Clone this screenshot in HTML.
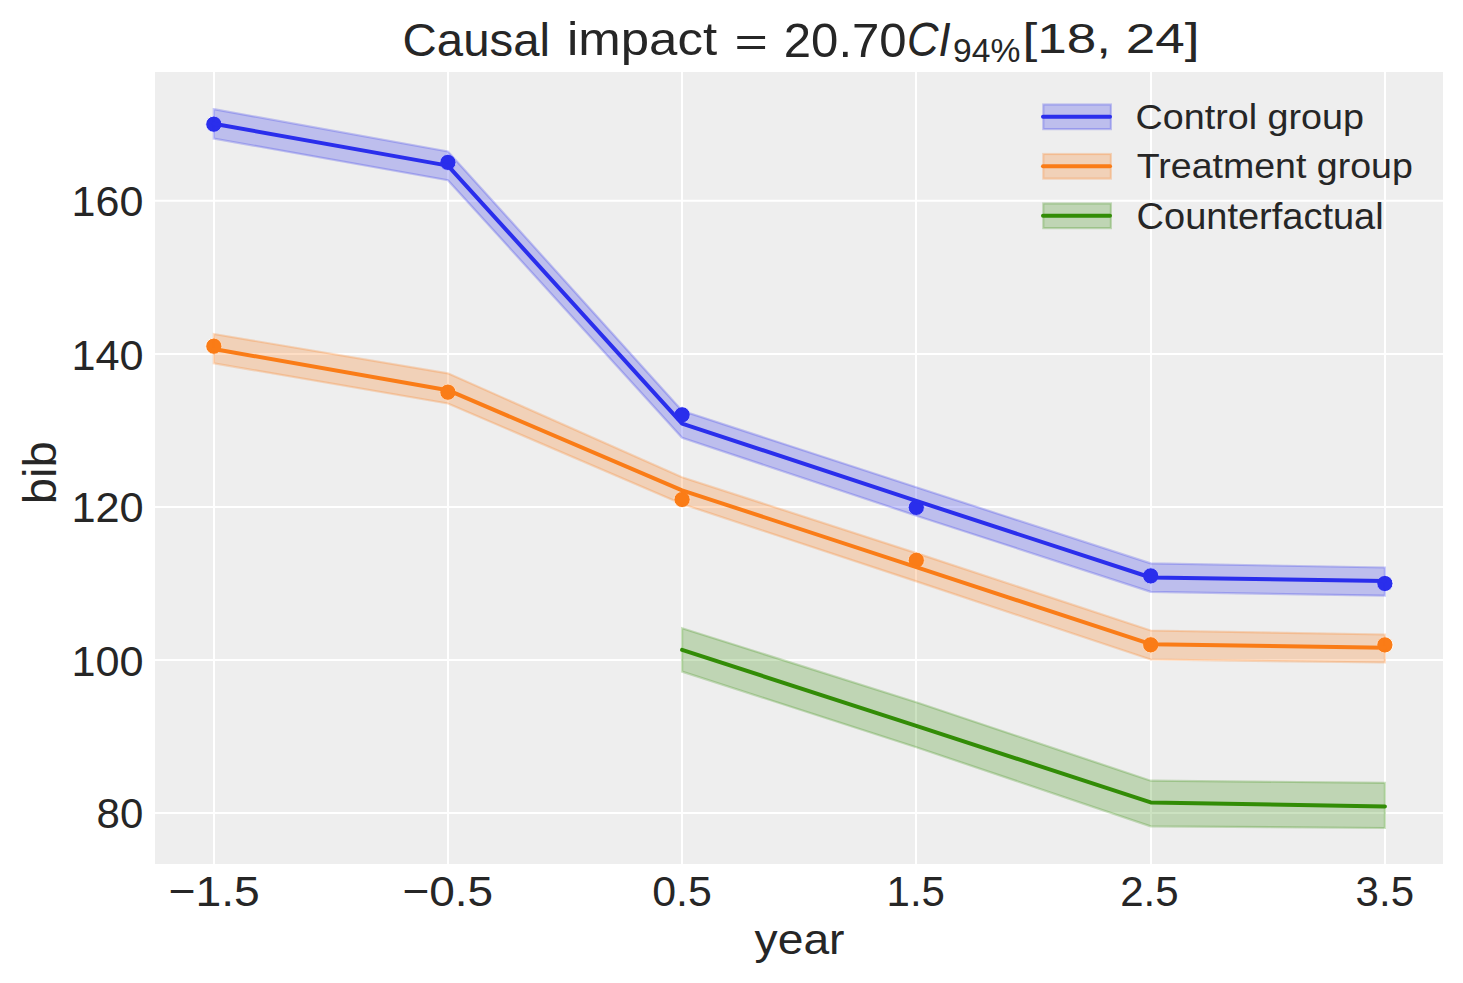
<!DOCTYPE html>
<html><head><meta charset="utf-8"><style>
html,body{margin:0;padding:0;background:#fff;width:1463px;height:983px;overflow:hidden}
svg{display:block}
text{font-family:"Liberation Sans",sans-serif;fill:#262626}
</style></head><body>
<svg width="1463" height="983" viewBox="0 0 1463 983">
<rect width="1463" height="983" fill="#fff"/>
<rect x="155" y="72" width="1288" height="792" fill="#eeeeee"/>
<line x1="214.0" y1="72" x2="214.0" y2="864" stroke="#fff" stroke-width="2"/>
<line x1="448.0" y1="72" x2="448.0" y2="864" stroke="#fff" stroke-width="2"/>
<line x1="682.0" y1="72" x2="682.0" y2="864" stroke="#fff" stroke-width="2"/>
<line x1="916.0" y1="72" x2="916.0" y2="864" stroke="#fff" stroke-width="2"/>
<line x1="1151.0" y1="72" x2="1151.0" y2="864" stroke="#fff" stroke-width="2"/>
<line x1="1385.0" y1="72" x2="1385.0" y2="864" stroke="#fff" stroke-width="2"/>
<line x1="155" y1="200.7" x2="1443" y2="200.7" stroke="#fff" stroke-width="2"/>
<line x1="155" y1="353.9" x2="1443" y2="353.9" stroke="#fff" stroke-width="2"/>
<line x1="155" y1="507.0" x2="1443" y2="507.0" stroke="#fff" stroke-width="2"/>
<line x1="155" y1="660.0" x2="1443" y2="660.0" stroke="#fff" stroke-width="2"/>
<line x1="155" y1="812.9" x2="1443" y2="812.9" stroke="#fff" stroke-width="2"/>
<circle cx="213.8" cy="124.2" r="8.1" fill="#2a2eec" stroke="#fff" stroke-width="0.9"/>
<circle cx="447.9" cy="162.4" r="8.1" fill="#2a2eec" stroke="#fff" stroke-width="0.9"/>
<circle cx="682.1" cy="414.8" r="8.1" fill="#2a2eec" stroke="#fff" stroke-width="0.9"/>
<circle cx="916.3" cy="507.4" r="8.1" fill="#2a2eec" stroke="#fff" stroke-width="0.9"/>
<circle cx="1150.7" cy="575.9" r="8.1" fill="#2a2eec" stroke="#fff" stroke-width="0.9"/>
<circle cx="1384.9" cy="583.5" r="8.1" fill="#2a2eec" stroke="#fff" stroke-width="0.9"/>
<circle cx="213.8" cy="346.2" r="8.1" fill="#fa7c17" stroke="#fff" stroke-width="0.9"/>
<circle cx="447.9" cy="392.2" r="8.1" fill="#fa7c17" stroke="#fff" stroke-width="0.9"/>
<circle cx="682.1" cy="499.5" r="8.1" fill="#fa7c17" stroke="#fff" stroke-width="0.9"/>
<circle cx="916.3" cy="560.3" r="8.1" fill="#fa7c17" stroke="#fff" stroke-width="0.9"/>
<circle cx="1150.7" cy="644.8" r="8.1" fill="#fa7c17" stroke="#fff" stroke-width="0.9"/>
<circle cx="1384.9" cy="644.9" r="8.1" fill="#fa7c17" stroke="#fff" stroke-width="0.9"/>
<polygon points="213.8,109.2 447.9,151.4 682.1,410.7 916.3,487.3 1150.7,563.4 1384.9,567.5 1384.9,595.7 1150.7,591.8 916.3,515.7 682.1,437.7 447.9,180.2 213.8,138.5" fill="#2a2eec" fill-opacity="0.25" stroke="#2a2eec" stroke-opacity="0.25" stroke-width="2.2" stroke-linejoin="miter"/>
<polyline points="213.8,123.8 447.9,165.6 682.1,423.6 916.3,500.9 1150.7,577.5 1384.9,581.0" fill="none" stroke="#2a2eec" stroke-width="4" stroke-linejoin="round" stroke-linecap="round"/>
<polygon points="213.8,334.0 447.9,373.3 682.1,477.2 916.3,553.1 1150.7,630.5 1384.9,634.5 1384.9,662.5 1150.7,659.5 916.3,581.4 682.1,504.0 447.9,403.5 213.8,363.3" fill="#fa7c17" fill-opacity="0.25" stroke="#fa7c17" stroke-opacity="0.25" stroke-width="2.2" stroke-linejoin="miter"/>
<polyline points="213.8,349.0 447.9,390.2 682.1,490.3 916.3,567.1 1150.7,644.2 1384.9,647.7" fill="none" stroke="#fa7c17" stroke-width="4" stroke-linejoin="round" stroke-linecap="round"/>
<polygon points="682.1,628.2 916.3,702.3 1150.7,780.7 1384.9,782.8 1384.9,828.0 1150.7,826.3 916.3,747.2 682.1,671.6" fill="#328c06" fill-opacity="0.25" stroke="#328c06" stroke-opacity="0.25" stroke-width="2.2" stroke-linejoin="miter"/>
<polyline points="682.1,649.9 916.3,725.8 1150.7,802.4 1384.9,806.4" fill="none" stroke="#328c06" stroke-width="4" stroke-linejoin="round" stroke-linecap="round"/>
<rect x="1043.3" y="104.5" width="67.6" height="24.6" fill="#2a2eec" fill-opacity="0.25" stroke="#2a2eec" stroke-opacity="0.25" stroke-width="2.2"/>
<line x1="1043" y1="116.8" x2="1110" y2="116.8" stroke="#2a2eec" stroke-width="4" stroke-linecap="round"/>
<rect x="1043.3" y="154.0" width="67.6" height="24.6" fill="#fa7c17" fill-opacity="0.25" stroke="#fa7c17" stroke-opacity="0.25" stroke-width="2.2"/>
<line x1="1043" y1="166.3" x2="1110" y2="166.3" stroke="#fa7c17" stroke-width="4" stroke-linecap="round"/>
<rect x="1043.3" y="203.5" width="67.6" height="24.6" fill="#328c06" fill-opacity="0.25" stroke="#328c06" stroke-opacity="0.25" stroke-width="2.2"/>
<line x1="1043" y1="215.8" x2="1110" y2="215.8" stroke="#328c06" stroke-width="4" stroke-linecap="round"/>

<g>
<text x="402.60" y="56.00" font-size="46.55" textLength="147.46" lengthAdjust="spacingAndGlyphs">Causal</text>
<text x="567.00" y="55.00" font-size="46.79" textLength="150.10" lengthAdjust="spacingAndGlyphs">impact</text>
<text x="734.40" y="56.00" font-size="40.81" textLength="33.39" lengthAdjust="spacingAndGlyphs">=</text>
<text x="783.80" y="56.60" font-size="48.16" textLength="122.89" lengthAdjust="spacingAndGlyphs">20.70</text>
<text x="907.00" y="55.80" font-size="48.09" textLength="43.62" lengthAdjust="spacingAndGlyphs" font-style="italic">CI</text>
<text x="953.00" y="62.20" font-size="32.80" textLength="67.28" lengthAdjust="spacingAndGlyphs">94%</text>
<text x="1022.60" y="53.40" font-size="43.35" textLength="176.86" lengthAdjust="spacingAndGlyphs">[18, 24]</text>
<text x="1135.60" y="129.00" font-size="35.06" textLength="228.40" lengthAdjust="spacingAndGlyphs">Control group</text>
<text x="1136.80" y="177.60" font-size="35.32" textLength="276.02" lengthAdjust="spacingAndGlyphs">Treatment group</text>
<text x="1136.60" y="228.60" font-size="36.40" textLength="247.04" lengthAdjust="spacingAndGlyphs">Counterfactual</text>
<text x="168.40" y="905.60" font-size="43.10" textLength="91.39" lengthAdjust="spacingAndGlyphs">−1.5</text>
<text x="402.40" y="905.60" font-size="43.10" textLength="90.79" lengthAdjust="spacingAndGlyphs">−0.5</text>
<text x="652.20" y="905.60" font-size="43.10" textLength="59.61" lengthAdjust="spacingAndGlyphs">0.5</text>
<text x="886.60" y="905.60" font-size="43.10" textLength="58.38" lengthAdjust="spacingAndGlyphs">1.5</text>
<text x="1120.20" y="905.60" font-size="43.10" textLength="58.45" lengthAdjust="spacingAndGlyphs">2.5</text>
<text x="1355.60" y="905.60" font-size="43.10" textLength="58.41" lengthAdjust="spacingAndGlyphs">3.5</text>
<text x="71.60" y="216.20" font-size="43.10" textLength="71.87" lengthAdjust="spacingAndGlyphs">160</text>
<text x="71.40" y="369.60" font-size="43.10" textLength="72.09" lengthAdjust="spacingAndGlyphs">140</text>
<text x="71.40" y="522.20" font-size="43.10" textLength="72.31" lengthAdjust="spacingAndGlyphs">120</text>
<text x="71.40" y="675.80" font-size="43.10" textLength="72.09" lengthAdjust="spacingAndGlyphs">100</text>
<text x="96.60" y="828.40" font-size="43.10" textLength="46.68" lengthAdjust="spacingAndGlyphs">80</text>
<text x="754.60" y="953.60" font-size="42.03" textLength="89.92" lengthAdjust="spacingAndGlyphs">year</text>

<text transform="translate(55.6,472.7) rotate(-90)" x="0" y="0" font-size="47" text-anchor="middle" textLength="63" lengthAdjust="spacingAndGlyphs">bib</text>
</g>
</svg>
</body></html>
